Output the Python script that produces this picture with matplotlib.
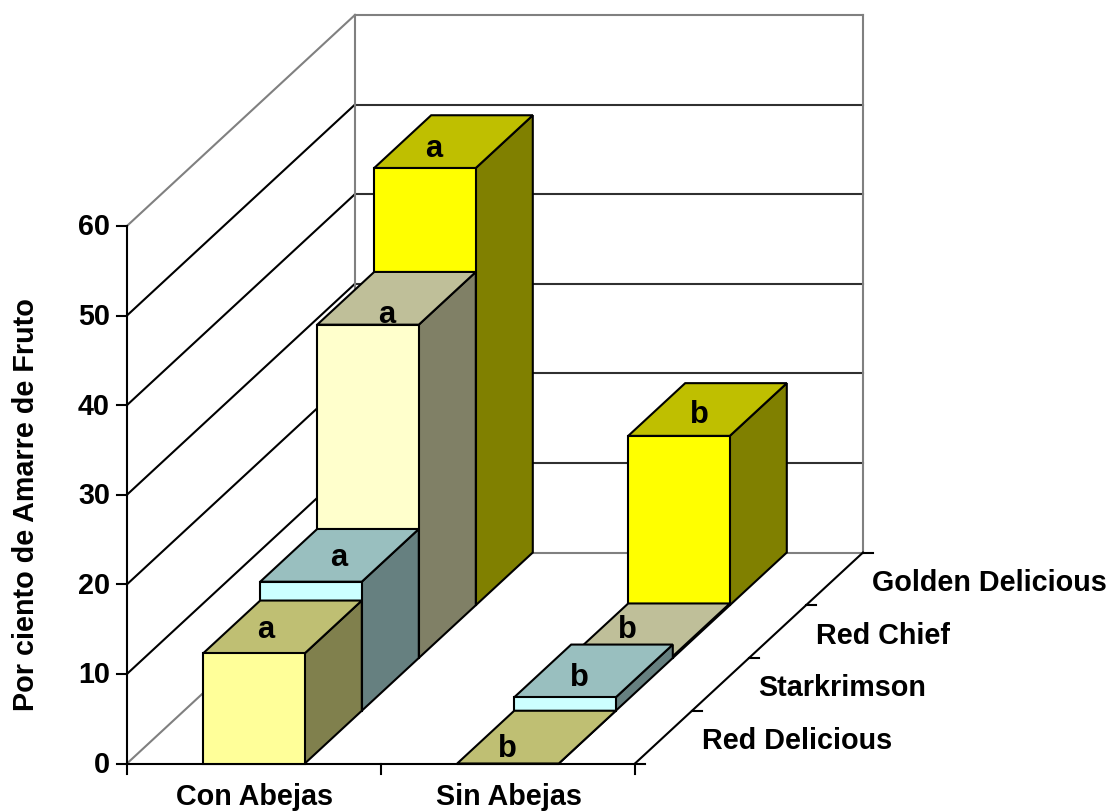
import matplotlib
matplotlib.use("Agg")
import matplotlib.pyplot as plt
from matplotlib.patches import Polygon

# Data
treatments = ["Con Abejas", "Sin Abejas"]
varieties = ["Red Delicious", "Starkrimson", "Red Chief", "Golden Delicious"]
con_abejas = [12.3, 14.4, 37.2, 48.8]
sin_abejas = [0.0, 1.5, 0.2, 18.9]
con_letters = ["a", "a", "a", "a"]
sin_letters = ["b", "b", "b", "b"]
y_ticks = [0, 10, 20, 30, 40, 50, 60]
y_label = "Por ciento de Amarre de Fruto"

# Style
front_colors = ["#FFFF99", "#CCFFFF", "#FFFFCC", "#FFFF00"]
top_colors = ["#BFBF73", "#99BFBF", "#BFBF99", "#BFBF00"]
side_colors = ["#80804D", "#668080", "#808066", "#808000"]
FONT = "Liberation Sans"
FS = 20.7
LW = 1.5
GRAY = "#808080"

# Oblique projection geometry (pixels)
X0, Y0 = 127.0, 764.5
CAT_W = 254.0
DX, DY = 57.0, -52.75
UNIT = 8.96
BAR_L, BAR_R = 0.30, 0.70
nD = len(varieties)
nC = len(treatments)
YMAX = y_ticks[-1]


def P(c, d, v):
    """category coord, depth coord, value -> figure pixels"""
    return (X0 + c * CAT_W + d * DX, Y0 + d * DY - v * UNIT)


fig = plt.figure(figsize=(11.12, 8.12), dpi=100)
ax = fig.add_axes([0, 0, 1, 1])
ax.set_xlim(0, 1112)
ax.set_ylim(812, 0)
ax.axis("off")


def line(a, b, color="black", lw=LW, z=1):
    ax.plot([a[0], b[0]], [a[1], b[1]], color=color, lw=lw, zorder=z,
            solid_capstyle="projecting")


# Walls and gridlines
for v in y_ticks[1:]:
    line(P(0, 0, v), P(0, nD, v), color="black" if v < YMAX else GRAY)
    line(P(0, nD, v), P(nC, nD, v), color="#303030" if v < YMAX else GRAY)
line(P(0, 0, 0), P(0, nD, 0), color=GRAY)
line(P(0, nD, 0), P(nC, nD, 0), color=GRAY)
line(P(0, nD, 0), P(0, nD, YMAX), color=GRAY)
line(P(nC, nD, 0), P(nC, nD, YMAX), color=GRAY)

# Axes
line(P(0, 0, 0), P(0, 0, YMAX), z=2)
line(P(0, 0, 0), P(nC, 0, 0), z=2)
line(P(nC, 0, 0), P(nC, nD, 0), z=2)
for v in y_ticks:
    x, y = P(0, 0, v)
    ax.plot([x - 10, x], [y, y], color="black", lw=LW)
    ax.text(x - 17, y + 0.5, str(v), ha="right", va="center", family=FONT,
            weight="bold", fontsize=FS)
for c in range(nC + 1):
    x, y = P(c, 0, 0)
    ax.plot([x, x], [y, y + 10], color="black", lw=LW)
for d in range(nD + 1):
    x, y = P(nC, d, 0)
    ax.plot([x, x + 10], [y, y], color="black", lw=LW)

for c, name in enumerate(treatments):
    x, y = P(c + 0.5, 0, 0)
    ax.text(x + 1, y + 33, name, ha="center", va="center", family=FONT,
            weight="bold", fontsize=FS)
for d, name in enumerate(varieties):
    x, y = P(nC, d + 0.5, 0)
    ax.text(x + 38, y + 3, name, ha="left", va="center", family=FONT,
            weight="bold", fontsize=FS)
ax.text(26, 505, y_label, rotation=90, ha="center", va="center", family=FONT,
        weight="bold", fontsize=FS)

# Bars: back to front, so nearer rows hide farther ones
z = 5
series = [con_abejas, sin_abejas]
for d in range(nD - 1, -1, -1):
    for c in range(nC):
        v = series[c][d]
        a, b = c + BAR_L, c + BAR_R
        faces = [
            ([P(b, d, 0), P(b, d + 1, 0), P(b, d + 1, v), P(b, d, v)], side_colors[d]),
            ([P(a, d, v), P(b, d, v), P(b, d + 1, v), P(a, d + 1, v)], top_colors[d]),
            ([P(a, d, 0), P(b, d, 0), P(b, d, v), P(a, d, v)], front_colors[d]),
        ]
        for pts, col in faces:
            ax.add_patch(Polygon(pts, closed=True, facecolor=col, edgecolor="black",
                                 lw=LW, joinstyle="miter", zorder=z))
        z += 1

# Letter annotations, with per-label nudges from the top-face centre
con_nudge = [(-17, -1.5), (-1, -2), (-10, 12.5), (-20, 3)]
sin_nudge = [(-29, 7.5), (-14, 2.5), (-23, -4.5), (-8, 0.5)]
for c, (vals, letters, nudge) in enumerate(zip(series, [con_letters, sin_letters],
                                               [con_nudge, sin_nudge])):
    for d in range(nD):
        x, y = P(c + 0.5, d + 0.5, vals[d])
        ax.text(x + nudge[d][0], y + nudge[d][1], letters[d], ha="center", va="center_baseline",
                family=FONT, weight="bold", fontsize=FS + 1.5, zorder=100)

fig.savefig("out.png", dpi=100, facecolor="white")
